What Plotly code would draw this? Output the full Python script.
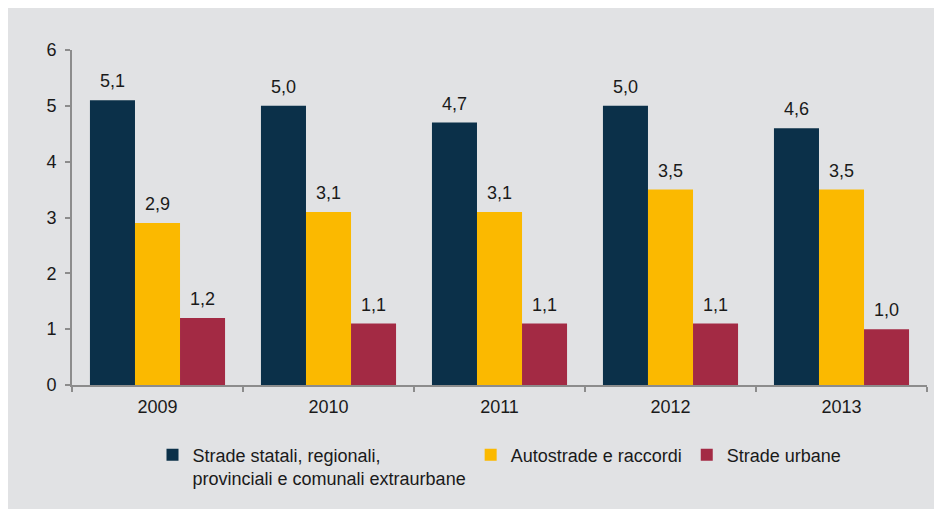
import plotly.graph_objects as go

anni = ["2009", "2010", "2011", "2012", "2013"]
statali = [5.1, 5.0, 4.7, 5.0, 4.6]
autostrade = [2.9, 3.1, 3.1, 3.5, 3.5]
urbane = [1.2, 1.1, 1.1, 1.1, 1.0]

nomi = ["Strade statali, regionali,<br>provinciali e comunali extraurbane",
        "Autostrade e raccordi", "Strade urbane"]
colori = ["#0b3049", "#fbb900", "#a32a44"]
serie = [statali, autostrade, urbane]

GRIGIO = "#e1e2e4"
FONT = "Liberation Sans, Arial, sans-serif"
W, H = 942, 509
M = dict(l=64, r=23, t=42, b=132)
BARGAP = 0.21

fig = go.Figure()
for nome, valori, col in zip(nomi, serie, colori):
    fig.add_trace(go.Bar(
        x=anni, y=valori, name=nome,
        marker=dict(color=col, line=dict(width=0)),
    ))

# etichette sopra le barre (spostate di una larghezza barra per gruppo)
larg_cat = (W - M["l"] - M["r"]) / len(anni)
larg_barra = larg_cat * (1 - BARGAP) / len(serie)
annotazioni = []
for i, valori in enumerate(serie):
    for j, v in enumerate(valori):
        annotazioni.append(dict(
            x=j, y=v, xref="x", yref="y", text=f"{v:.1f}".replace(".", ","),
            showarrow=False, yanchor="bottom", yshift=7,
            xshift=(i - 1) * larg_barra,
            font=dict(size=18, color="#1a1a1a"),
        ))

fig.update_layout(
    width=W, height=H,
    margin=M,
    paper_bgcolor=GRIGIO,
    plot_bgcolor=GRIGIO,
    separators=",.",
    barmode="group",
    bargap=BARGAP,
    bargroupgap=0,
    font=dict(family=FONT, size=18, color="#1a1a1a"),
    showlegend=True,
    legend=dict(
        orientation="h", x=0.5, xanchor="center", y=-0.154, yanchor="top",
        font=dict(size=18), bgcolor="rgba(0,0,0,0)", valign="top",
        itemwidth=30, traceorder="normal",
    ),
    annotations=annotazioni,
)
fig.update_xaxes(
    type="category",
    showline=True, linecolor="#8c8c8c", linewidth=2,
    ticks="outside", tickson="boundaries", ticklen=5, tickcolor="#8c8c8c", tickwidth=2,
    showgrid=False, tickfont=dict(size=18), ticklabelstandoff=4,
)
fig.update_yaxes(
    range=[0, 6], dtick=1, showline=True, linecolor="#8c8c8c", linewidth=2,
    ticks="outside", ticklen=5, tickcolor="#8c8c8c", tickwidth=2,
    showgrid=False, zeroline=False, tickfont=dict(size=18), ticklabelstandoff=5,
)

fig.write_html("out.html")
